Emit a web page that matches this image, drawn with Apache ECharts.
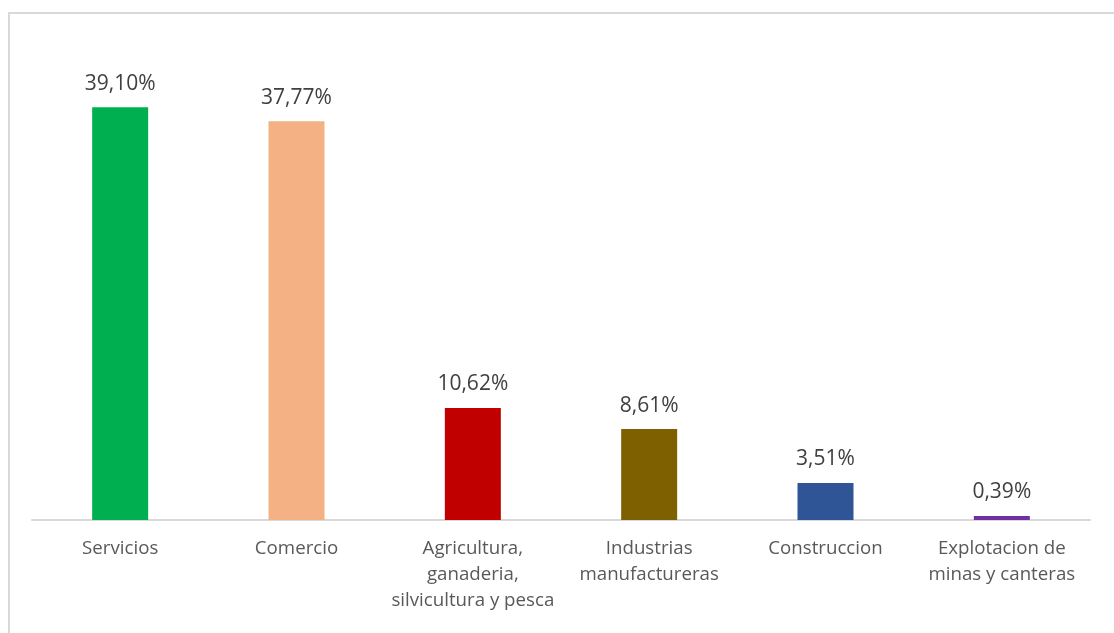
<!DOCTYPE html>
<html>
<head>
<meta charset="utf-8">
<script src="https://cdn.jsdelivr.net/npm/echarts@6/dist/echarts.min.js"></script>
<style>
  html, body { margin: 0; padding: 0; background: #ffffff; }
  #chart { width: 1114px; height: 633px; }
</style>
</head>
<body>
<div id="chart"></div>
<script>
// Sector categories (line breaks as shown under the axis)
const categories = [
  'Servicios',
  'Comercio',
  'Agricultura,\nganaderia,\nsilvicultura y pesca',
  'Industrias\nmanufactureras',
  'Construccion',
  'Explotacion de\nminas y canteras'
];
// Share of each sector, in percent
const values = [39.10, 37.77, 10.62, 8.61, 3.51, 0.39];
// One fill per bar
const barColors = ['#00B050', '#F4B183', '#C00000', '#7F6000', '#2F5597', '#7030A0'];

const chart = echarts.init(document.getElementById('chart'), null, { renderer: 'canvas' });

const fontFamily = '"Open Sans", "Noto Sans", sans-serif';

chart.setOption({
  animation: false,
  backgroundColor: '#ffffff',
  graphic: [{
    type: 'rect',
    shape: { x: 9, y: 13, width: 1130, height: 650 },
    style: { fill: 'none', stroke: '#d9d9d9', lineWidth: 2 },
    silent: true,
    z: 0
  }],
  grid: { left: 32, right: 24, top: 45, bottom: 113, containLabel: false },
  xAxis: {
    type: 'category',
    data: categories,
    axisLine: { show: true, lineStyle: { color: '#d9d9d9', width: 2 } },
    axisTick: { show: false },
    axisLabel: {
      interval: 0,
      margin: 16,
      color: '#595959',
      fontFamily: fontFamily,
      fontSize: 18.7,
      lineHeight: 26,
      align: 'center'
    }
  },
  yAxis: {
    type: 'value',
    min: 0,
    max: 45,
    show: false,
    splitLine: { show: false }
  },
  series: [{
    type: 'bar',
    data: values.map((v, i) => ({ value: v, itemStyle: { color: barColors[i] } })),
    barWidth: 56,
    label: {
      show: true,
      position: 'top',
      distance: 13,
      color: '#404040',
      fontFamily: fontFamily,
      fontSize: 21,
      formatter: p => p.value.toFixed(2).replace('.', ',') + '%'
    }
  }]
});
</script>
</body>
</html>
